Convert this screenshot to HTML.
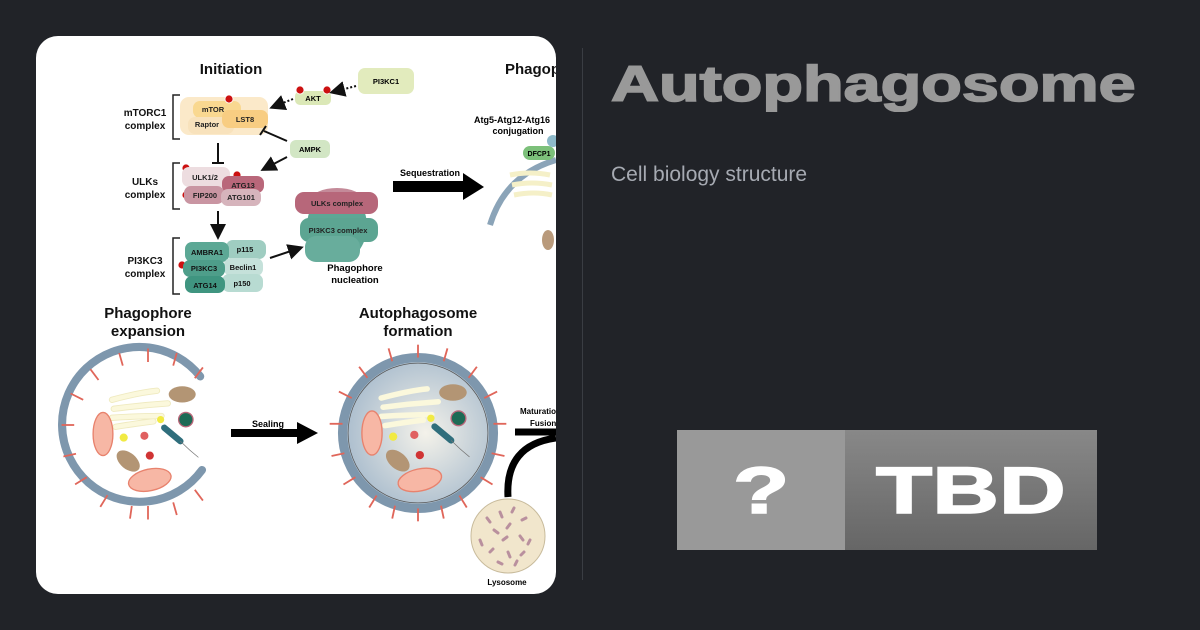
<!DOCTYPE html>
<html><head><meta charset="utf-8"><style>
html,body{margin:0;padding:0;}
body{width:1200px;height:630px;background:#212328;position:relative;overflow:hidden;font-family:"Liberation Sans",sans-serif;}
.card{position:absolute;left:36px;top:36px;width:520px;height:558px;background:#fff;border-radius:22px;overflow:hidden;}
.vl{position:absolute;left:582px;top:48px;width:1px;height:532px;background:#3a3d43;}
.title{position:absolute;left:611px;top:54px;font-weight:bold;font-size:50px;color:#999;-webkit-text-stroke:1.6px #999;transform:scaleX(1.33);transform-origin:left top;line-height:60px;white-space:nowrap;}
.sub{position:absolute;left:611px;top:163px;font-size:21px;color:#a6aab2;}
.b1{position:absolute;left:677px;top:430px;width:168px;height:120px;background:#999;color:#fff;font-weight:bold;font-size:66px;text-align:center;line-height:120px;}
.b2{position:absolute;left:845px;top:430px;width:252px;height:120px;background:linear-gradient(#888,#666);color:#fff;font-weight:bold;font-size:66px;text-align:center;line-height:120px;}
.b1 span,.b2 span{display:inline-block;transform:scaleX(1.4);-webkit-text-stroke:1.5px #fff;}
</style></head><body>
<div class="card">
<svg width="520" height="558" viewBox="36 36 520 558" xmlns="http://www.w3.org/2000/svg" font-family="Liberation Sans, sans-serif" font-weight="bold">
<defs>
<radialGradient id="g2" cx="0.55" cy="0.5" r="0.55"><stop offset="0" stop-color="#f4f2ea"/><stop offset="1" stop-color="#a9bccd"/></radialGradient>
<marker id="ah" markerWidth="8" markerHeight="8" refX="6" refY="4" orient="auto"><path d="M0,0 L8,4 L0,8z" fill="#111"/></marker>
</defs>
<g text-anchor="middle" fill="#111">
<text x="231" y="74" font-size="15">Initiation</text>
<text x="505" y="74" font-size="15" text-anchor="start">Phagophore</text>
<text x="145" y="116" font-size="10">mTORC1</text><text x="145" y="129" font-size="10">complex</text>
<text x="145" y="185" font-size="10">ULKs</text><text x="145" y="198" font-size="10">complex</text>
<text x="145" y="264" font-size="10">PI3KC3</text><text x="145" y="277" font-size="10">complex</text>
</g>
<g fill="none" stroke="#222" stroke-width="1.5">
<path d="M180 95 H173 V139 H180"/><path d="M180 163 H173 V209 H180"/><path d="M180 238 H173 V294 H180"/>
</g>
<rect x="180" y="97" width="88" height="38" rx="9" fill="#fbe9c9"/>
<rect x="193" y="101" width="48" height="17" rx="7" fill="#f9d890"/>
<rect x="188" y="117" width="46" height="17" rx="7" fill="#f8e2bc"/>
<rect x="222" y="110" width="46" height="18" rx="7" fill="#f8cd82"/>
<g font-size="7.5" text-anchor="middle" fill="#222">
<text x="213" y="112">mTOR</text><text x="245" y="122">LST8</text><text x="207" y="127">Raptor</text>
</g>
<rect x="295" y="91" width="36" height="14" rx="5" fill="#dbe8b7"/><text x="313" y="101" font-size="7.5" text-anchor="middle">AKT</text>
<rect x="358" y="68" width="56" height="26" rx="7" fill="#e2ebbd"/><text x="386" y="84" font-size="7.5" text-anchor="middle">PI3KC1</text>
<rect x="290" y="140" width="40" height="18" rx="6" fill="#d2e6c4"/><text x="310" y="152" font-size="7.5" text-anchor="middle">AMPK</text>
<g fill="#cc1111" stroke="#fff" stroke-width="0.8">
<circle cx="229" cy="99" r="4"/><circle cx="300" cy="90" r="4"/><circle cx="327" cy="90" r="4"/>
<circle cx="186" cy="168" r="4"/><circle cx="237" cy="175" r="4"/><circle cx="186" cy="195" r="4"/><circle cx="182" cy="265" r="4"/>
</g>
<g stroke="#111" stroke-width="2" fill="none">
<path d="M356 86 L333 92" stroke-dasharray="2,2" marker-end="url(#ah)"/>
<path d="M293 99 L273 107" stroke-dasharray="2,2" marker-end="url(#ah)"/>
<path d="M287 141 L264 131"/><path d="M260 135 L266 126"/>
<path d="M287 157 L264 169" marker-end="url(#ah)"/>
<path d="M218 143 V163"/><path d="M212 163 H224"/>
<path d="M218 211 V236" marker-end="url(#ah)"/>
<path d="M270 258 L300 248" marker-end="url(#ah)"/>
</g>
<rect x="182" y="167" width="48" height="20" rx="7" fill="#eddde0"/>
<rect x="222" y="176" width="42" height="17" rx="7" fill="#b9677a"/>
<rect x="184" y="186" width="40" height="18" rx="7" fill="#c995a2"/>
<rect x="221" y="189" width="40" height="17" rx="7" fill="#d6b4bc"/>
<g font-size="7.5" text-anchor="middle" fill="#222">
<text x="205" y="180">ULK1/2</text><text x="243" y="188">ATG13</text><text x="205" y="198">FIP200</text><text x="241" y="200">ATG101</text>
</g>
<rect x="226" y="240" width="40" height="19" rx="7" fill="#9fcdc1"/>
<rect x="185" y="242" width="44" height="20" rx="7" fill="#5ca895"/>
<rect x="224" y="258" width="39" height="18" rx="7" fill="#c5e1da"/>
<rect x="183" y="260" width="42" height="17" rx="7" fill="#4e9e8a"/>
<rect x="222" y="274" width="41" height="18" rx="7" fill="#b8dbd2"/>
<rect x="185" y="276" width="40" height="17" rx="7" fill="#3f9580"/>
<g font-size="7.5" text-anchor="middle" fill="#111">
<text x="207" y="255">AMBRA1</text><text x="245" y="252">p115</text><text x="204" y="271">PI3KC3</text><text x="243" y="270">Beclin1</text><text x="205" y="288">ATG14</text><text x="242" y="286">p150</text>
</g>
<ellipse cx="337" cy="226" rx="30" ry="36" fill="#5da795"/>
<rect x="300" y="218" width="78" height="24" rx="9" fill="#5ca592"/>
<rect x="305" y="236" width="55" height="26" rx="11" fill="#68ad9c"/>
<ellipse cx="337" cy="200" rx="26" ry="12" fill="#c48a99"/>
<rect x="295" y="192" width="83" height="22" rx="9" fill="#b7677a"/>
<g font-size="7.5" text-anchor="middle" fill="#222"><text x="337" y="206">ULKs complex</text><text x="338" y="233">PI3KC3 complex</text></g>
<text x="355" y="271" font-size="9.5" text-anchor="middle">Phagophore</text><text x="355" y="283" font-size="9.5" text-anchor="middle">nucleation</text>
<text x="430" y="176" font-size="9" text-anchor="middle">Sequestration</text>
<path d="M393 181 H463 V173 L484 187 L463 200 V192 H393z" fill="#000"/>
<text x="474" y="123" font-size="9" text-anchor="start">Atg5-Atg12-Atg16</text><text x="518" y="134" font-size="9" text-anchor="middle">conjugation</text>
<path d="M490 225 Q505 175 556 160" stroke="#8ba4b8" stroke-width="6" fill="none"/>
<rect x="523" y="146" width="32" height="14" rx="7" fill="#7cc07a"/><text x="539" y="156" font-size="7" text-anchor="middle">DFCP1</text>
<circle cx="553" cy="141" r="6" fill="#8db9c9"/>
<path d="M510 175 q20 -4 40 0 M512 185 q20 -4 40 0 M514 195 q20 -4 38 0" stroke="#f5f0c8" stroke-width="5" fill="none"/>
<ellipse cx="548" cy="240" rx="6" ry="10" fill="#b99a7b"/>
<g text-anchor="middle" font-size="15" fill="#111">
<text x="148" y="318">Phagophore</text><text x="148" y="336">expansion</text>
<text x="418" y="318">Autophagosome</text><text x="418" y="336">formation</text>
</g>
<g transform="translate(148,434) scale(0.9)">
<path d="M58 -64 A86 86 0 1 0 60 40" stroke="#7e97ad" stroke-width="9" fill="none" stroke-linecap="round"/>
<g stroke="#e0665a" stroke-width="2">
<path d="M0 -80 V-95"/><path d="M-28 -76 L-32 -90"/><path d="M28 -76 L32 -90"/><path d="M-55 -60 L-64 -72"/><path d="M52 -62 L61 -74"/>
<path d="M-72 -38 L-86 -45"/><path d="M-82 -10 L-96 -10"/><path d="M-80 22 L-94 25"/><path d="M-68 48 L-81 56"/><path d="M-45 68 L-53 81"/><path d="M-18 80 L-20 94"/><path d="M0 80 V95"/><path d="M28 76 L32 90"/><path d="M52 62 L61 74"/>
</g>
<path d="M-40 -38 q30 -8 50 -10 M-38 -28 q30 -4 60 -6 M-40 -18 q30 -2 55 -2 M-36 -8 q25 -4 42 -6" stroke="#efeac0" stroke-width="7" fill="none" stroke-linecap="round"/>
<path d="M-40 -38 q30 -8 50 -10 M-38 -28 q30 -4 60 -6 M-40 -18 q30 -2 55 -2 M-36 -8 q25 -4 42 -6" stroke="#fbf8dc" stroke-width="5" fill="none" stroke-linecap="round"/>
<ellipse cx="38" cy="-44" rx="15" ry="9" fill="#b39574"/>
<ellipse cx="-22" cy="30" rx="15" ry="9" transform="rotate(40 -22 30)" fill="#b39574"/>
<circle cx="42" cy="-16" r="8" fill="#1d6a55" stroke="#b9677a" stroke-width="1.5"/>
<circle cx="-27" cy="4" r="4.5" fill="#f1ea43"/><circle cx="-4" cy="2" r="4.5" fill="#e06060"/><circle cx="2" cy="24" r="4.5" fill="#d03434"/><circle cx="14" cy="-16" r="4" fill="#f1ea43"/>
<ellipse cx="-50" cy="0" rx="11" ry="24" fill="#f7b7a5" stroke="#e8826d" stroke-width="1.5"/>
<ellipse cx="2" cy="51" rx="24" ry="12" transform="rotate(-12 2 51)" fill="#f7b7a5" stroke="#e8826d" stroke-width="1.5"/>
<path d="M18 -7 L36 8" stroke="#2f6e7c" stroke-width="7" stroke-linecap="round"/>
<path d="M36 8 q10 10 20 18" stroke="#777" stroke-width="0.8" fill="none"/>
</g>
<text x="268" y="427" font-size="9" text-anchor="middle">Sealing</text>
<path d="M231 429 H297 V422 L318 433 L297 444 V437 H231z" fill="#000"/>
<g transform="translate(418,433) scale(0.92)">
<circle r="82" fill="url(#g2)" stroke="#7e97ad" stroke-width="10"/>
<circle r="76" fill="none" stroke="#555" stroke-width="0.8"/>
<g stroke="#e0665a" stroke-width="2">
<path d="M0 -82 V-96"/><path d="M-28 -78 L-32 -92"/><path d="M28 -78 L32 -92"/><path d="M-55 -60 L-64 -72"/><path d="M55 -60 L64 -72"/><path d="M-72 -38 L-86 -45"/><path d="M72 -38 L86 -45"/><path d="M-82 -10 L-96 -10"/><path d="M82 -10 L96 -10"/><path d="M-80 22 L-94 25"/><path d="M80 22 L94 25"/><path d="M-68 48 L-81 56"/><path d="M68 48 L81 56"/><path d="M-45 68 L-53 81"/><path d="M45 68 L53 81"/><path d="M0 82 V96"/><path d="M-25 79 L-28 93"/><path d="M25 79 L28 93"/>
</g>
<path d="M-40 -38 q30 -8 50 -10 M-38 -28 q30 -4 60 -6 M-40 -18 q30 -2 55 -2 M-36 -8 q25 -4 42 -6" stroke="#fbf8dc" stroke-width="6" fill="none" stroke-linecap="round"/>
<ellipse cx="38" cy="-44" rx="15" ry="9" fill="#b39574"/>
<ellipse cx="-22" cy="30" rx="15" ry="9" transform="rotate(40 -22 30)" fill="#b39574"/>
<circle cx="44" cy="-16" r="8" fill="#1d6a55" stroke="#b9677a" stroke-width="1.5"/>
<circle cx="-27" cy="4" r="4.5" fill="#f1ea43"/><circle cx="-4" cy="2" r="4.5" fill="#e06060"/><circle cx="2" cy="24" r="4.5" fill="#d03434"/><circle cx="14" cy="-16" r="4" fill="#f1ea43"/>
<ellipse cx="-50" cy="0" rx="11" ry="24" fill="#f7b7a5" stroke="#e8826d" stroke-width="1.5"/>
<ellipse cx="2" cy="51" rx="24" ry="12" transform="rotate(-12 2 51)" fill="#f7b7a5" stroke="#e8826d" stroke-width="1.5"/>
<path d="M18 -7 L36 8" stroke="#2f6e7c" stroke-width="7" stroke-linecap="round"/>
<path d="M36 8 q10 10 20 18" stroke="#777" stroke-width="0.8" fill="none"/>
</g>
<text x="520" y="414" font-size="8" text-anchor="start">Maturation</text><text x="530" y="426" font-size="8" text-anchor="start">Fusion</text>
<path d="M515 432 H556" stroke="#000" stroke-width="7"/>
<path d="M508 497 Q505 445 556 438" stroke="#000" stroke-width="7" fill="none"/>
<circle cx="508" cy="536" r="37" fill="#f1e6cc" stroke="#c8bb9c" stroke-width="1"/>
<g stroke="#b9909e" stroke-width="3" stroke-linecap="round">
<path d="M487 518 l3 4"/><path d="M500 512 l2 5"/><path d="M514 508 l-2 4"/><path d="M522 520 l4 -2"/><path d="M494 530 l4 3"/><path d="M510 524 l-3 4"/><path d="M480 540 l2 5"/><path d="M503 540 l4 -3"/><path d="M520 536 l3 4"/><path d="M530 540 l-2 4"/><path d="M490 552 l3 -3"/><path d="M508 552 l2 5"/><path d="M524 552 l-3 3"/><path d="M498 562 l4 2"/><path d="M515 565 l2 -4"/>
</g>
<text x="507" y="585" font-size="8" text-anchor="middle">Lysosome</text>
</svg>
</div>
<div class="vl"></div>
<div class="title">Autophagosome</div>
<div class="sub">Cell biology structure</div>
<div class="b1"><span>?</span></div>
<div class="b2"><span>TBD</span></div>
</body></html>
